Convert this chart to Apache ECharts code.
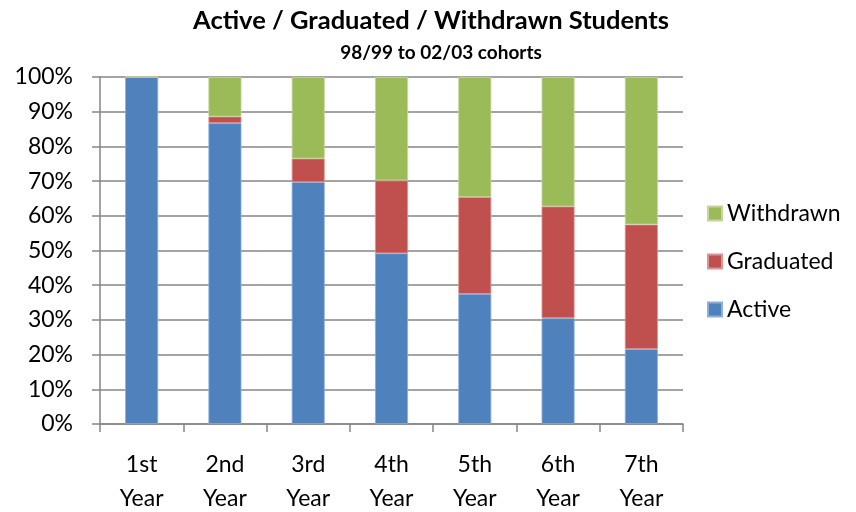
<!DOCTYPE html>
<html><head><meta charset="utf-8">
<script src="https://cdn.jsdelivr.net/npm/echarts@6/dist/echarts.min.js"></script>
<style>html,body{margin:0;padding:0;background:#fff}#c{width:856px;height:512px}</style>
</head><body><div id="c"></div>
<script>
const categories = ['1st\nYear','2nd\nYear','3rd\nYear','4th\nYear','5th\nYear','6th\nYear','7th\nYear'];
const active = [100, 86.7, 69.7, 49.2, 37.5, 30.5, 21.6];
const graduated = [0, 1.9, 6.8, 21.0, 27.9, 32.2, 35.9];
const withdrawn = [0, 11.4, 23.5, 29.8, 34.6, 37.3, 42.5];
const yTicks = [0,10,20,30,40,50,60,70,80,90,100];

const FONT = 'Lato, "Open Sans", sans-serif';
const chart = echarts.init(document.getElementById('c'), null, {renderer:'canvas'});
const mk = (name, data, color, border) => ({
  name, type:'bar', stack:'s', data, barWidth: 33,
  itemStyle:{color, borderColor: border, borderWidth: 0.8},
  emphasis:{disabled:true}
});
chart.setOption({
  animation:false,
  title:[
    {text:'Active / Graduated / Withdrawn Students', left:426, top:3, textAlign:'center',
     textStyle:{fontFamily:FONT, fontWeight:'bold', fontSize:25.5, color:'#000'}},
    {text:'98/99 to 02/03 cohorts', left:436, top:38, textAlign:'center',
     textStyle:{fontFamily:FONT, fontWeight:'bold', fontSize:19, color:'#000'}}
  ],
  legend:{
    orient:'vertical', left:702, top:197, itemWidth:14, itemHeight:14, itemGap:25,
    icon:'rect',
    data:['Withdrawn','Graduated','Active'],
    textStyle:{fontFamily:FONT, fontSize:23, color:'#000'}
  },
  grid:{left:100, right:173, top:77, bottom:88, outerBoundsMode:'none', containLabel:false},
  xAxis:{
    type:'category', data:categories,
    axisLine:{lineStyle:{color:'#868686', width:1.5}},
    axisTick:{show:true, length:8, lineStyle:{color:'#868686', width:1.5}},
    axisLabel:{fontFamily:FONT, fontSize:23, color:'#000', lineHeight:34, margin:24}
  },
  yAxis:{
    type:'value', min:0, max:100, interval:10,
    axisLine:{show:true, lineStyle:{color:'#868686', width:1.5}},
    axisTick:{show:true, length:8, lineStyle:{color:'#868686', width:1.5}},
    splitLine:{lineStyle:{color:'#868686', width:1.5}},
    axisLabel:{fontFamily:FONT, fontSize:23, color:'#000', margin:27,
      formatter: v => yTicks.includes(v) ? v + '%' : ''}
  },
  series:[
    mk('Active', active, '#4F81BD', '#8eaedb'),
    mk('Graduated', graduated, '#C0504D', '#d99694'),
    mk('Withdrawn', withdrawn, '#9BBB59', '#c3d69b')
  ]
});
</script></body></html>
